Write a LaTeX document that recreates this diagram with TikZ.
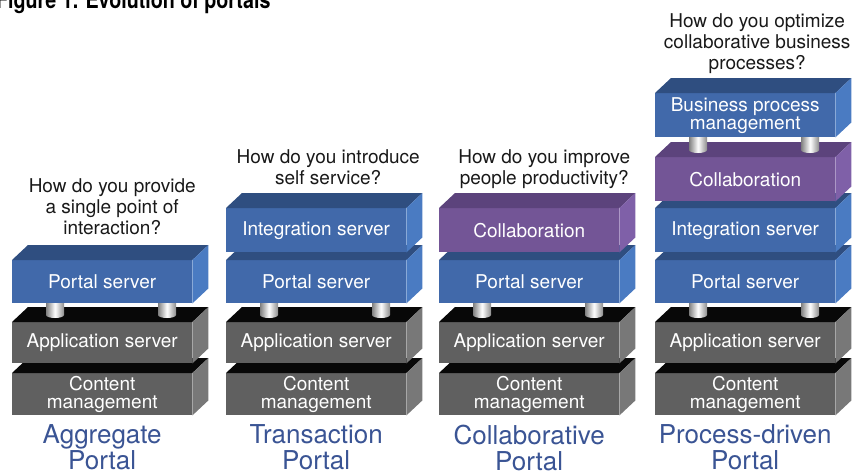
\documentclass[tikz,border=0pt]{standalone}
\usepackage{fontspec}
\setmainfont{TeX Gyre Heros}
\usepackage{xcolor}
\usetikzlibrary{positioning}

\definecolor{blueface}{HTML}{4169AA}
\definecolor{bluetop}{HTML}{2F4E80}
\definecolor{blueside}{HTML}{4A7BC2}
\definecolor{purpleface}{HTML}{735596}
\definecolor{purpletop}{HTML}{5C437C}
\definecolor{purpleside}{HTML}{7F60A8}
\definecolor{grayface}{HTML}{606060}
\definecolor{graytop}{HTML}{080808}
\definecolor{grayside}{HTML}{787878}
\definecolor{portalblue}{HTML}{3A5494}

\tikzset{
  slabface/.style={fill=#1face, text=white, minimum width=180pt, inner sep=0pt,
    align=center, anchor=north west, font=\fontsize{19}{18}\selectfont},
  pillar/.style={left color=black!50, right color=black!45, middle color=white},
  question/.style={align=center, inner sep=0pt, text=black!90,
    font=\fontsize{19}{21}\selectfont},
  kind/.style={align=center, inner sep=0pt, text=portalblue,
    font=\fontsize{26}{26}\selectfont},
  headline/.style={inner sep=0pt, xscale=0.82, font=\fontsize{24}{24}\bfseries\selectfont},
}

% one box of a stack: name, colour, left x, top y, bottom y, text
\newcommand{\slab}[6]{%
  \node[slabface=#2, minimum height={(#5-#4)*1pt}] (#1) at (#3,#4) {#6}; %
  \fill[#2top] (#1.north west) -- ++(16,-15) -- ([shift={(16,-15)}]#1.north east)
    -- (#1.north east) -- cycle; %
  \fill[#2side] (#1.north east) -- ++(16,-15) -- ([shift={(16,-15)}]#1.south east)
    -- (#1.south east) -- cycle; %
}
% a post standing on the top of a box: box name, x offset
\newcommand{\post}[2]{%
  \shade[pillar] ([xshift=#2pt-9pt, yshift=23pt]#1.north west) -- ++(0,16)
    arc[start angle=180, end angle=360, x radius=9pt, y radius=3pt]
    -- ++(0,-16) -- cycle; %
}

\begin{document}
\begin{tikzpicture}[x=1pt, y=-1pt]
  \useasboundingbox (0,0) rectangle (866,475);
  \clip (0,0) rectangle (866,475);

  \node[headline, anchor=base west] (title) at (-4,8) {Figure 1. Evolution of portals}; %

  % base of every stack
  \foreach \i/\x in {1/12, 2/226, 3/439, 4/655} {
    \slab{cm\i}{gray}{\x}{373}{415}{Content\\management} %
    \slab{as\i}{gray}{\x}{322}{363}{Application server} %
    \post{as\i}{43} \post{as\i}{155} %
    \slab{ps\i}{blue}{\x}{260}{303}{Portal server} %
  }

  % upper boxes
  \slab{is2}{blue}{226}{208}{252}{Integration server} %
  \slab{co3}{purple}{439}{208}{252}{Collaboration} %
  \slab{is4}{blue}{655}{208}{252}{Integration server} %
  \slab{co4}{purple}{655}{157}{201}{Collaboration} %
  \post{co4}{43} \post{co4}{155} %
  \slab{bp4}{blue}{655}{93}{137}{Business process\\management} %

  % questions
  \coordinate (t1) at ([shift={(10,-15)}]ps1.north); %
  \coordinate (t2) at ([shift={(12,-15)}]is2.north); %
  \coordinate (t3) at ([shift={(15,-15)}]co3.north); %
  \coordinate (t4) at ([shift={(12,-15)}]bp4.north); %
  \node[question, above=10pt of t1] (q1) {How do you provide\\a single point of\\interaction?}; %
  \node[question, above=8pt of t2] (q2) {How do you introduce\\self service?}; %
  \node[question, above=4pt of t3] (q3) {How do you improve\\people productivity?}; %
  \node[question, above=4pt of t4] (q4) {How do you optimize\\collaborative business\\processes?}; %

  % portal kinds
  \node[kind, below=9pt of cm1] (k1) {Aggregate\\Portal}; %
  \node[kind, below=9pt of cm2] (k2) {Transaction\\Portal}; %
  \node[kind, below=9pt of cm3] (k3) {Collaborative\\Portal}; %
  \node[kind, below=9pt of cm4] (k4) {Process-driven\\Portal}; %
\end{tikzpicture}
\end{document}
